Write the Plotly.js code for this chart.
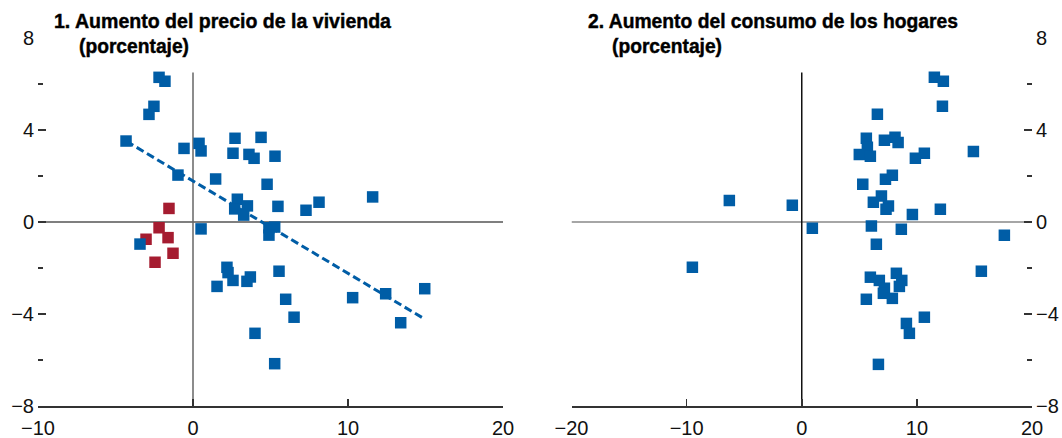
<!DOCTYPE html>
<html>
<head>
<meta charset="utf-8">
<script src="https://cdn.plot.ly/plotly-3.0.1.min.js"></script>
<style>html,body{margin:0;padding:0;background:#fff;}#chart{width:1062px;height:438px;}</style>
</head>
<body>
<div id="chart"></div>
<script>
// Panel 1: house price growth (x) vs common y variable
const leftBlueX = [-4.32,-2.19,-1.81,-2.52,-2.84,-0.58,0.39,0.52,2.71,4.39,2.58,3.61,3.94,5.29,-0.97,1.46,4.78,2.86,3.51,2.69,3.27,5.48,8.13,7.29,11.59,0.52,-3.42,4.9,5.27,4.9,2.19,2.26,2.58,3.7,3.48,1.55,5.55,5.98,4.0,5.27,6.52,10.3,12.43,13.4,14.95];
const leftBlueY = [3.52,6.29,6.12,5.03,4.68,3.2,3.42,3.09,3.64,3.68,2.99,2.94,2.77,2.86,2.04,1.87,1.64,0.99,0.70,0.57,0.30,0.68,0.86,0.51,1.09,-0.30,-0.96,-0.25,-0.22,-0.57,-1.97,-2.2,-2.54,-2.39,-2.58,-2.8,-2.14,-3.36,-4.84,-6.16,-4.14,-3.29,-3.12,-4.38,-2.9];
const leftRedX = [-1.55,-2.19,-3.03,-1.61,-1.29,-2.45];
const leftRedY = [0.59,-0.25,-0.75,-0.68,-1.36,-1.75];
const trendX = [-4.3, 14.95];
const trendY = [3.51, -4.22];

// Panel 2: household consumption growth (x)
const rightX = [11.52,12.3,12.22,6.57,5.61,8.1,7.18,8.37,5.7,5.0,5.96,10.65,9.87,14.91,5.3,7.27,7.87,6.92,6.22,7.53,7.32,9.61,12.04,
  6.05,8.65,17.6,6.48,15.6,5.96,8.22,6.74,8.69,7.18,8.48,7.09,7.87,5.61,10.65,9.09,9.35,6.66,
  -6.29,-0.82,0.92,-9.5];
const rightY = [6.29,6.12,5.03,4.68,3.64,3.68,3.55,3.46,3.25,2.94,2.86,2.99,2.77,3.07,1.64,1.86,2.03,1.13,0.86,0.70,0.55,0.33,0.55,
  -0.17,-0.32,-0.58,-0.97,-2.14,-2.4,-2.23,-2.54,-2.54,-2.88,-2.8,-3.1,-3.32,-3.36,-4.14,-4.41,-4.84,-6.19,
  0.94,0.73,-0.27,-1.97];

const titles = ["1. Aumento del precio de la vivienda", "2. Aumento del consumo de los hogares"];
const subtitle = "(porcentaje)";
const xTicksLeft = [-10, 0, 10, 20];
const xTicksRight = [-20, -10, 0, 10, 20];
const yTicks = [-8, -4, 0, 4, 8];
const yMinor = [-6, -2, 2, 6];

const BLUE = "#005DA6";
const RED = "#A51C30";
const W = 1062;
const FONT = "Liberation Sans, Arial, sans-serif";
// rendered widths of the title lines in the reference (px)
const TITLE_WIDTHS = {};
TITLE_WIDTHS[titles[0]] = 337;
TITLE_WIDTHS[titles[1]] = 370;
TITLE_WIDTHS[subtitle] = 110;

const traces = [
  {x: trendX, y: trendY, xaxis: 'x', yaxis: 'y', mode: 'lines', type: 'scatter',
   line: {color: BLUE, width: 3, dash: '8px,4px'}, hoverinfo: 'skip'},
  {x: leftRedX, y: leftRedY, xaxis: 'x', yaxis: 'y', mode: 'markers', type: 'scatter',
   marker: {symbol: 'square', size: 11.5, color: RED}},
  {x: leftBlueX, y: leftBlueY, xaxis: 'x', yaxis: 'y', mode: 'markers', type: 'scatter',
   marker: {symbol: 'square', size: 11.5, color: BLUE}},
  {x: rightX, y: rightY, xaxis: 'x2', yaxis: 'y2', mode: 'markers', type: 'scatter',
   marker: {symbol: 'square', size: 11.5, color: BLUE}}
];

const tickFont = {family: FONT, size: 20, color: '#111'};
function yAxis(extra) {
  return Object.assign({
    range: [-8, 8], tickmode: 'array', tickvals: yTicks, ticks: 'inside', ticklen: 8,
    tickwidth: 1.6, tickcolor: '#333', showline: false, zeroline: false, showgrid: false,
    tickfont: tickFont, automargin: false, ticklabelstandoff: 3,
    minor: {tickvals: yMinor, ticks: 'inside', ticklen: 5, tickwidth: 1.6, tickcolor: '#333', showgrid: false}
  }, extra);
}
function xAxis(extra) {
  return Object.assign({
    tickmode: 'array', ticks: 'inside', ticklen: 7, tickwidth: 1.6, tickcolor: '#333',
    showline: true, linecolor: '#333', linewidth: 1.6, zeroline: false, showgrid: false,
    tickfont: tickFont, automargin: false, ticklabelstandoff: 3
  }, extra);
}

const titleFont = {family: FONT, size: 21, color: '#000'};
const layout = {
  width: 1062, height: 438,
  margin: {l: 0, r: 0, t: 38, b: 32},
  paper_bgcolor: '#fff', plot_bgcolor: 'rgba(0,0,0,0)',
  showlegend: false,
  font: {family: FONT, color: '#111'},
  xaxis: xAxis({domain: [38 / W, 503 / W], range: [-10, 20], tickvals: xTicksLeft, anchor: 'y'}),
  yaxis: yAxis({anchor: 'x', side: 'left'}),
  yaxis3: yAxis({anchor: 'x', side: 'right', overlaying: 'y', showticklabels: false}),
  xaxis2: xAxis({domain: [571.5 / W, 1032 / W], range: [-20, 20], tickvals: xTicksRight, anchor: 'y2'}),
  yaxis2: yAxis({anchor: 'x2', side: 'right'}),
  yaxis4: yAxis({anchor: 'x2', side: 'left', overlaying: 'y2', showticklabels: false}),
  shapes: [
    {type: 'line', xref: 'x', yref: 'y', x0: -10, x1: 20, y0: 0, y1: 0, layer: 'below', line: {color: '#555', width: 1.5}},
    {type: 'line', xref: 'x', yref: 'y', x0: 0, x1: 0, y0: -8, y1: 6.5, layer: 'below', line: {color: '#666', width: 1.5}},
    {type: 'line', xref: 'x2', yref: 'y2', x0: -20, x1: 20, y0: 0, y1: 0, layer: 'below', line: {color: '#888', width: 1.5}},
    {type: 'line', xref: 'x2', yref: 'y2', x0: 0, x1: 0, y0: -8, y1: 6.5, layer: 'below', line: {color: '#111', width: 1.5}}
  ],
  annotations: [
    {text: '<b>' + titles[0] + '</b>', xref: 'paper', yref: 'paper', x: 52 / W, y: (406 - 21) / 368,
     xanchor: 'left', yanchor: 'middle', showarrow: false, font: titleFont},
    {text: '<b>' + subtitle + '</b>', xref: 'paper', yref: 'paper', x: 77 / W, y: (406 - 46) / 368,
     xanchor: 'left', yanchor: 'middle', showarrow: false, font: titleFont},
    {text: '<b>' + titles[1] + '</b>', xref: 'paper', yref: 'paper', x: 586 / W, y: (406 - 21) / 368,
     xanchor: 'left', yanchor: 'middle', showarrow: false, font: titleFont},
    {text: '<b>' + subtitle + '</b>', xref: 'paper', yref: 'paper', x: 610 / W, y: (406 - 46) / 368,
     xanchor: 'left', yanchor: 'middle', showarrow: false, font: titleFont}
  ]
};

Plotly.newPlot('chart', traces, layout, {displayModeBar: false, staticPlot: true}).then(function (gd) {
  // titles use a condensed, heavy face in the reference: fit each line to its measured width, left edge fixed
  const texts = gd.querySelectorAll('.annotation-text-g text, .annotation text');
  const seen = new Set();
  texts.forEach(function (t) {
    if (seen.has(t)) return; seen.add(t);
    const content = (t.textContent || '').trim();
    if (TITLE_WIDTHS[content] === undefined) return;
    const len = t.getComputedTextLength();
    if (!len) return;
    const anchor = t.getAttribute('text-anchor') || getComputedStyle(t).textAnchor || 'start';
    const x = parseFloat(t.getAttribute('x') || '0');
    let startX = x;
    if (anchor === 'middle') startX = x - len / 2;
    else if (anchor === 'end') startX = x - len;
    t.setAttribute('text-anchor', 'start');
    t.style.textAnchor = 'start';
    t.setAttribute('x', String(startX));
    t.setAttribute('textLength', String(TITLE_WIDTHS[content]));
    t.setAttribute('lengthAdjust', 'spacingAndGlyphs');
    t.style.stroke = '#000';
    t.style.strokeWidth = '0.45px';
  });
});
</script>
</body>
</html>
